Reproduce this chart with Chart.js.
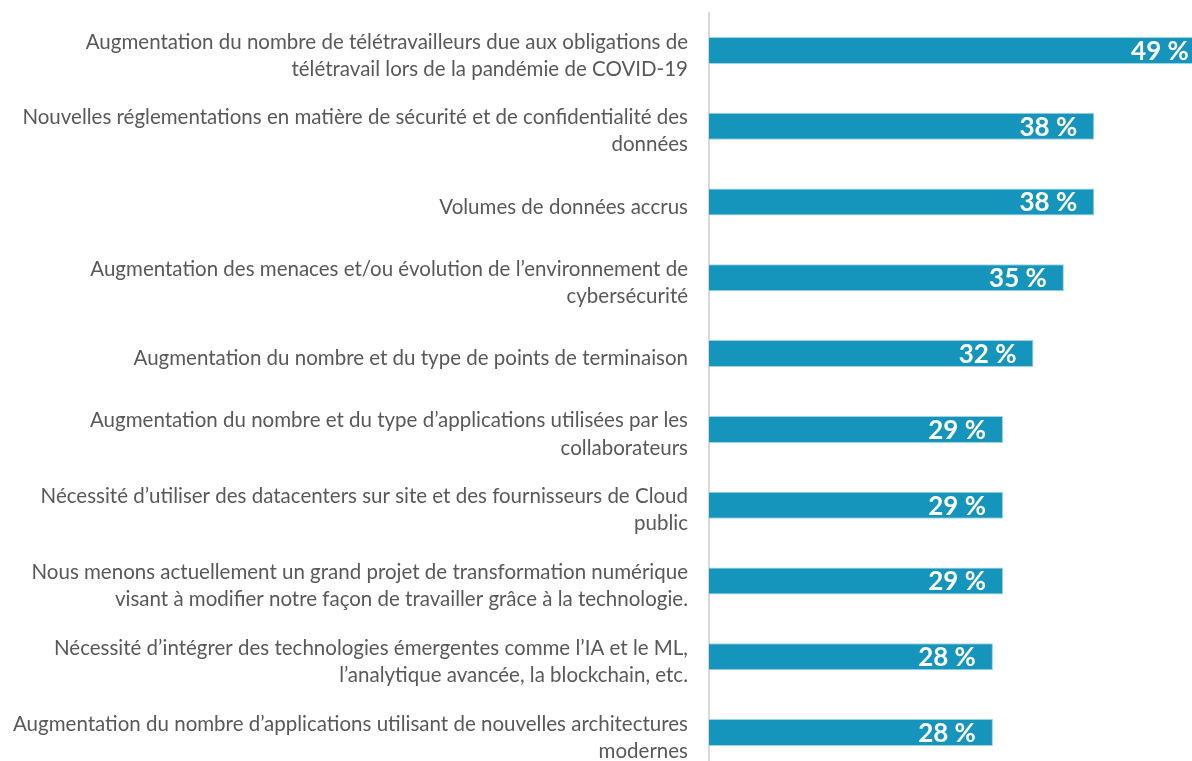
<!DOCTYPE html>
<html lang="fr">
<head>
<meta charset="utf-8">
<title>Facteurs</title>
<script src="https://cdn.jsdelivr.net/npm/chart.js@4"></script>
<style>
  html, body { margin: 0; padding: 0; background: #fff; overflow: hidden; }
  #wrap { width: 1216px; height: 771px; }
</style>
</head>
<body>
<div id="wrap"><canvas id="chart" width="1216" height="771"></canvas></div>
<script>
// Categories (each entry is one label, split into its lines)
const categories = [
    ['Augmentation du nombre de télétravailleurs due aux obligations de', 'télétravail lors de la pandémie de COVID-19'],
    ['Nouvelles réglementations en matière de sécurité et de confidentialité des', 'données'],
    'Volumes de données accrus',
    ['Augmentation des menaces et/ou évolution de l’environnement de', 'cybersécurité'],
    'Augmentation du nombre et du type de points de terminaison',
    ['Augmentation du nombre et du type d’applications utilisées par les', 'collaborateurs'],
    ['Nécessité d’utiliser des datacenters sur site et des fournisseurs de Cloud', 'public'],
    ['Nous menons actuellement un grand projet de transformation numérique', 'visant à modifier notre façon de travailler grâce à la technologie.'],
    ['Nécessité d’intégrer des technologies émergentes comme l’IA et le ML,', 'l’analytique avancée, la blockchain, etc.'],
    ['Augmentation du nombre d’applications utilisant de nouvelles architectures', 'modernes']
];

// Share of respondents, in %
const values = [49, 38, 38, 35, 32, 29, 29, 29, 28, 28];

const barColor = '#1595bb';
const labelColor = '#595959';

// white value labels at the end of each bar
const valueLabels = {
    id: 'valueLabels',
    afterDatasetsDraw(chart) {
        const ctx = chart.ctx;
        const meta = chart.getDatasetMeta(0);
        ctx.save();
        ctx.fillStyle = '#ffffff';
        ctx.font = 'bold 26px Lato';
        ctx.textAlign = 'right';
        ctx.textBaseline = 'middle';
        meta.data.forEach((bar, i) => {
            ctx.fillText(values[i] + ' %', bar.x - 17, bar.y + 1);
        });
        ctx.restore();
    }
};

new Chart(document.getElementById('chart'), {
    type: 'bar',
    data: {
        labels: categories,
        datasets: [{
            data: values,
            backgroundColor: barColor,
            borderColor: '#9fd2e3',
            borderWidth: 1,
            borderSkipped: 'start',
            barPercentage: 0.356,
            categoryPercentage: 1
        }]
    },
    options: {
        indexAxis: 'y',
        responsive: false,
        animation: false,
        layout: { padding: { top: 12.6, bottom: 0.6, left: 0, right: 0 } },
        plugins: {
            legend: { display: false },
            tooltip: { enabled: false }
        },
        scales: {
            x: {
                min: 0,
                max: 50,
                display: false
            },
            y: {
                grid: { display: false, drawTicks: false },
                border: { display: true, color: '#d9d9d9', width: 2 },
                ticks: {
                    autoSkip: false,
                    padding: 21,
                    labelOffset: 5,
                    color: labelColor,
                    font: { family: 'Lato', size: 20.5, lineHeight: 1.32 }
                },
                afterFit(scale) {
                    // fixed label column, no extra room for the outer labels
                    scale.width = 709;
                    scale.paddingTop = 0;
                    scale.paddingBottom = 0;
                }
            }
        }
    },
    plugins: [valueLabels]
});
</script>
</body>
</html>
